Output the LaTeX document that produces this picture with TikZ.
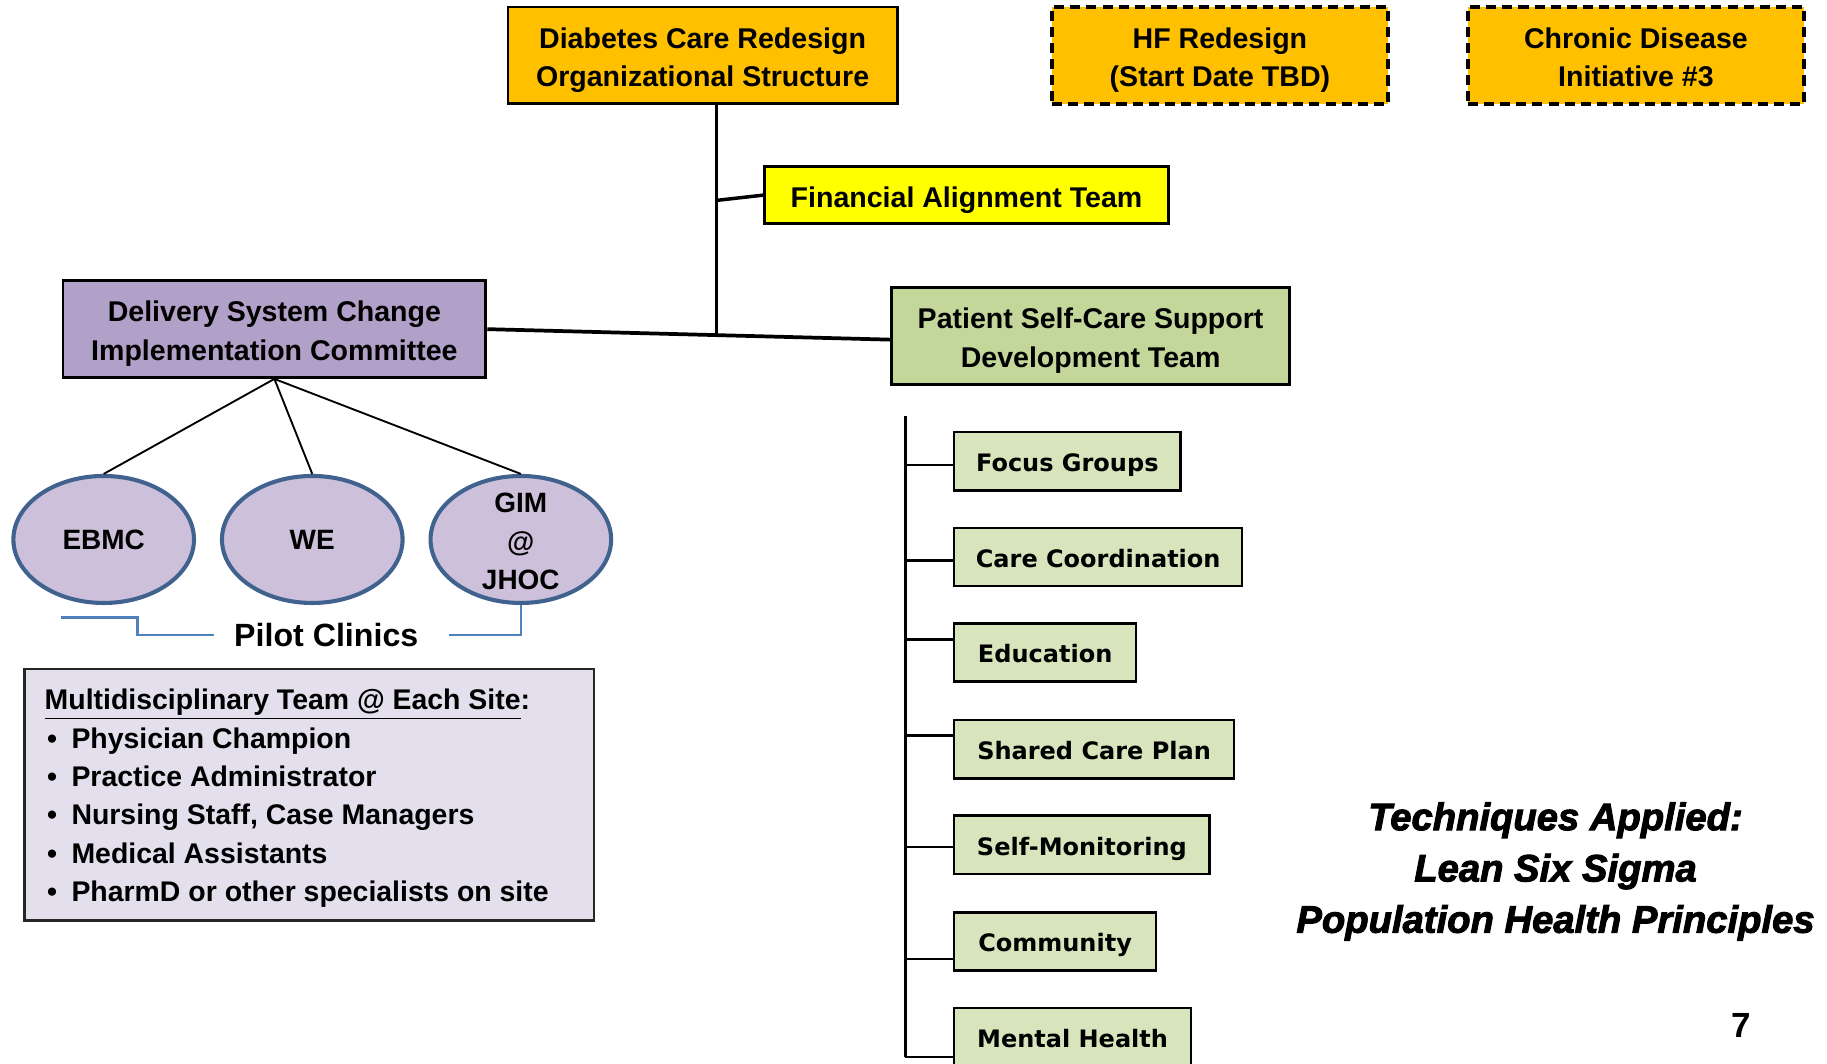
\documentclass[tikz,border=0pt]{standalone}
\usepackage{fontspec}
\setmainfont{Liberation Sans}
\newfontfamily\verd{DejaVu Sans}
\newfontface\techfont{Liberation Sans Bold Italic}[FakeBold=2.5]
\usetikzlibrary{shapes.geometric}
\definecolor{orangeF}{HTML}{FFC000}
\definecolor{yellowF}{HTML}{FFFF00}
\definecolor{purpleF}{HTML}{B1A0C7}
\definecolor{greenF}{HTML}{C4D79B}
\definecolor{subF}{HTML}{D8E4BC}
\definecolor{ellF}{HTML}{CCC0DA}
\definecolor{ellB}{RGB}{65,98,143}
\definecolor{mdF}{HTML}{E4DFEC}
\definecolor{bracketC}{RGB}{79,129,189}
\newcommand\boxtop{\rule{0pt}{12.9pt}}
\newcommand\boxbot{\rule[-2.6pt]{0pt}{0pt}}
\begin{document}
\begin{tikzpicture}[x=0.5pt,y=-0.5pt,
  box/.style={draw=black, line width=1.2pt, inner sep=0pt, align=center,
    font=\fontsize{12.25}{16.5}\selectfont\bfseries},
  dbox/.style={box, fill=orangeF, line width=1.7pt, dash pattern=on 4.3pt off 2.6pt},
  sub/.style={draw=black, line width=1pt, fill=subF, anchor=west, inner xsep=9pt,
    inner ysep=0pt, minimum height=25pt, text height=10.5pt, text depth=1.6pt,
    font=\verd\fontsize{10.3}{12}\selectfont\bfseries},
  clinic/.style={ellipse, draw=ellB, line width=1.75pt, fill=ellF,
    minimum width=77.5pt, minimum height=54.5pt, inner sep=0pt},
  ctext/.style={inner sep=0pt, align=center, font=\fontsize{12}{16.5}\selectfont\bfseries},
  conn/.style={draw=black, line width=1.5pt},
  thinconn/.style={draw=black, line width=0.8pt},
  tree/.style={draw=black, line width=1.1pt},
  bracket/.style={draw=bracketC, line width=1pt},
  mdtext/.style={anchor=base west, inner sep=0pt, font=\fontsize{12.2}{14}\selectfont\bfseries}
]
\useasboundingbox (0,0) rectangle (1568,913);

% top boxes
\node[box, fill=orangeF, minimum width=167pt, minimum height=41.5pt] (diab) at (603,47.5)
  {\boxtop Diabetes Care Redesign\\Organizational Structure\boxbot};
\node[dbox, minimum width=144pt, minimum height=41.5pt] (hf) at (1047,47.5)
  {\boxtop HF Redesign\\(Start Date TBD)\boxbot};
\node[dbox, minimum width=144pt, minimum height=41.5pt] (cdi) at (1404,47.5)
  {\boxtop Chronic Disease\\Initiative \#3\boxbot};
\node[box, fill=yellowF, minimum width=173.5pt, minimum height=24.5pt] (fin) at (829.5,167.5)
  {\boxtop Financial Alignment Team\boxbot};
\node[box, fill=purpleF, minimum width=181.5pt, minimum height=41.5pt] (deliv) at (235.5,282.5)
  {\boxtop Delivery System Change\\Implementation Committee\boxbot};
\node[box, fill=greenF, minimum width=171pt, minimum height=41.5pt] (psc) at (936,288.5)
  {\boxtop Patient Self-Care Support\\Development Team\boxbot};

% main connectors
\coordinate (jn) at (615,287);
\coordinate (fj) at (615,172);
\draw[conn] (diab.south -| jn) -- (jn);
\draw[conn] (fj) -- (fin.west);
\draw[conn, line width=1.6pt] (deliv.east) -- ([yshift=-1.5pt]psc.west);

% clinics
\node[clinic] (ebmc) at (89,463) {};
\node[clinic] (we) at (268,463) {};
\node[clinic] (gim) at (447,463) {};
\node[ctext] (ebmct) at (ebmc) {EBMC};
\node[ctext] (wet) at (we) {WE};
\node[ctext, yshift=-1pt] (gimt) at (gim) {GIM\\@\\JHOC};
\draw[thinconn] (deliv.south) -- (ebmc.north);
\draw[thinconn] (deliv.south) -- (we.north);
\draw[thinconn] (deliv.south) -- (gim.north);

% pilot clinics bracket
\node[inner sep=0pt, font=\fontsize{13.8}{16}\selectfont\bfseries] (pilot) at (280,545) {Pilot Clinics};
\coordinate (pl) at (52,530);
\draw[bracket] (pl) -- ++(66,0) |- ([xshift=-8.5pt]pilot.west);
\draw[bracket] ([xshift=13pt]pilot.east) -| (gim.south);

% multidisciplinary team box
\node[draw=black!85, line width=1pt, fill=mdF, minimum width=244.5pt, minimum height=108pt,
  inner sep=0pt] (md) at (265.5,682) {};
\node[mdtext] (mt0) at (38,609) {\underline{Multidisciplinary Team @ Each Site}:};
\node[mdtext] (mt1) at (38,642) {\makebox[11.5pt][l]{\hspace{1pt}•}Physician Champion};
\node[mdtext] (mt2) at (38,675) {\makebox[11.5pt][l]{\hspace{1pt}•}Practice Administrator};
\node[mdtext] (mt3) at (38,708) {\makebox[11.5pt][l]{\hspace{1pt}•}Nursing Staff, Case Managers};
\node[mdtext] (mt4) at (38,741) {\makebox[11.5pt][l]{\hspace{1pt}•}Medical Assistants};
\node[mdtext] (mt5) at (38,774) {\makebox[11.5pt][l]{\hspace{1pt}•}PharmD or other specialists on site};

% sub teams
\node[sub, minimum width=97pt] (focus) at (818,396) {Focus Groups};
\node[sub, minimum width=123.5pt] (care) at (818,478) {Care Coordination};
\node[sub, minimum width=78pt] (edu) at (818,560) {Education};
\node[sub, minimum width=120pt] (shared) at (818,643) {Shared Care Plan};
\node[sub, minimum width=109.5pt] (selfm) at (818,725) {Self-Monitoring};
\node[sub, minimum width=86.5pt] (comm) at (818,808) {Community};
\node[sub, minimum width=101.5pt] (mental) at (818,890) {Mental Health};

\coordinate (ttop) at (777,357);
\coordinate (tbot) at (777,907);
\draw[tree] (ttop) -- (tbot);
\draw[tree] ([yshift=-1.5pt]focus.west) -- ++(-41,0);
\draw[tree] ([yshift=-1.5pt]care.west) -- ++(-41,0);
\draw[tree] ([yshift=5.5pt]edu.west) -- ++(-41,0);
\draw[tree] ([yshift=6pt]shared.west) -- ++(-41,0);
\draw[tree] ([yshift=-1pt]selfm.west) -- ++(-41,0);
\draw[tree] ([yshift=-7.5pt]comm.west) -- ++(-41,0);
\draw[tree] ([yshift=-8.5pt]mental.west) -- ++(-41,0);

% techniques
\node[align=center, inner sep=0pt, font=\techfont\fontsize{16.4}{22}\selectfont] (tech) at (1335,748)
  {Techniques Applied:\\Lean Six Sigma\\Population Health Principles};
\node[inner sep=0pt, font=\fontsize{15}{18}\selectfont\bfseries] (pg) at (1494,880) {7};
\end{tikzpicture}
\end{document}
